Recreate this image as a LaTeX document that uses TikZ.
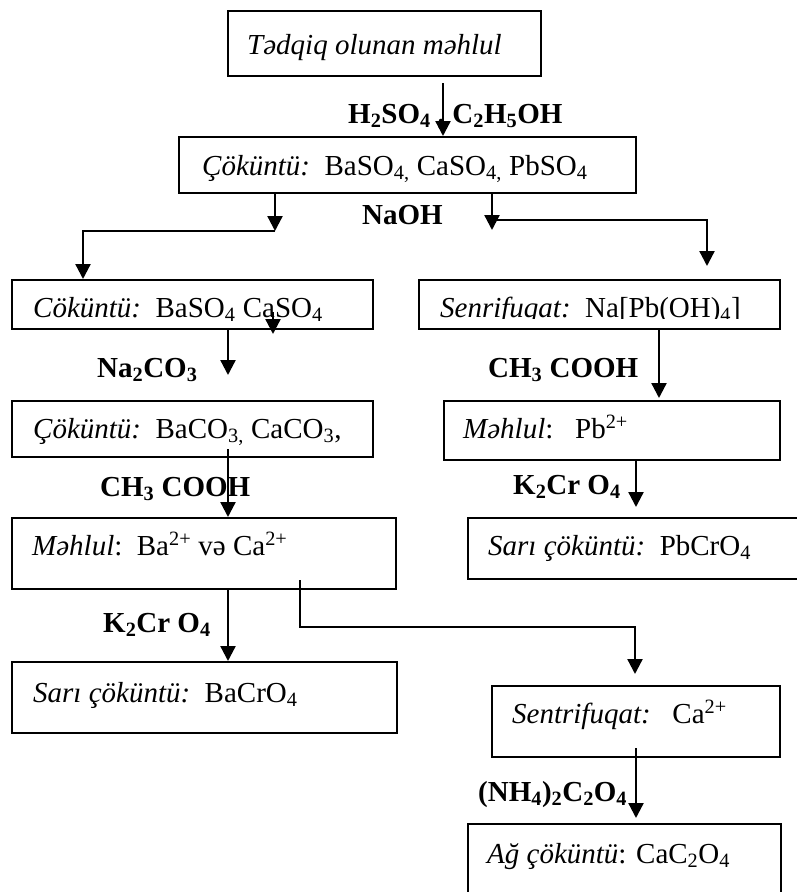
\documentclass[tikz,border=0pt]{standalone}
\usepackage{fontspec}
\setmainfont{Liberation Serif}
\usepackage{tikz}
\usetikzlibrary{arrows.meta}

\begin{document}
\begin{tikzpicture}[x=1pt,y=-1pt,
  box/.style={draw,line width=2pt,anchor=north west,inner sep=0pt},
  txt/.style={anchor=base west,inner sep=0pt,font=\fontsize{29}{34}\selectfont},
  lab/.style={anchor=base west,inner sep=0pt,font=\fontsize{29}{34}\selectfont\bfseries},
  flow/.style={line width=2.3pt,-{Triangle[length=15pt,width=15pt]}}]
\useasboundingbox (0,0) rectangle (797,892);
\clip (0,0) rectangle (797,892);
\fill[white] (0,0) rectangle (797,892);

\node[box,minimum width=313pt,minimum height=65pt] (b1) at (227,10) {};
\node[box,minimum width=457pt,minimum height=56pt] (b2) at (178,136) {};
\node[box,minimum width=361pt,minimum height=49pt] (b3) at (11,279) {};
\node[box,minimum width=361pt,minimum height=56pt] (b4) at (11,400) {};
\node[box,minimum width=384pt,minimum height=71pt] (b5) at (11,517) {};
\node[box,minimum width=385pt,minimum height=71pt] (b6) at (11,661) {};
\node[box,minimum width=361pt,minimum height=49pt] (b7) at (418,279) {};
\node[box,minimum width=336pt,minimum height=59pt] (b8) at (443,400) {};
\node[box,minimum width=400pt,minimum height=61pt] (b9) at (467,517) {};
\node[box,minimum width=288pt,minimum height=71pt] (b10) at (491,685) {};
\node[box,minimum width=313pt,minimum height=100pt] (b11) at (467,823) {};

\node[txt] (t1) at (247,54) {\textit{Tədqiq olunan məhlul}};
\node[txt] (t2) at (202,175) {\textit{Çöküntü:}\ \ BaSO\textsubscript{4,} CaSO\textsubscript{4,} PbSO\textsubscript{4}};
\node[txt] (t3) at (33,317) {\textit{Cöküntü:}\ \ BaSO\textsubscript{4} CaSO\textsubscript{4}};
\node[txt] (t4) at (33,438) {\textit{Çöküntü:}\ \ BaCO\textsubscript{3,} CaCO\textsubscript{3},};
\node[txt] (t5) at (32,555) {\textit{Məhlul}:\ \ Ba\textsuperscript{2+} və Ca\textsuperscript{2+}};
\node[txt] (t6) at (33,702) {\textit{Sarı çöküntü:}\ \ BaCrO\textsubscript{4}};
\begin{scope}
\clip (418,279) rectangle (779,318.5);
\node[txt] (t7) at (440,317) {\textit{Senrifuqat:}\ \ Na[Pb(OH)\textsubscript{4}]};
\end{scope}
\node[txt] (t8) at (463,438) {\textit{Məhlul}:\ \ \ Pb\textsuperscript{2+}};
\node[txt] (t9) at (488,555) {\textit{Sarı çöküntü:}\ \ PbCrO\textsubscript{4}};
\node[txt] (t10) at (512,723) {\textit{Sentrifuqat:}\ \ \ Ca\textsuperscript{2+}};
\node[txt] (t11) at (487,863) {\textit{Ağ çöküntü}: CaC\textsubscript{2}O\textsubscript{4}};

\node[lab] (l1) at (348,123) {H\textsubscript{2}SO\textsubscript{4} , C\textsubscript{2}H\textsubscript{5}OH};
\node[lab] (l2) at (362,224) {NaOH};
\node[lab] (l3) at (97,377) {Na\textsubscript{2}CO\textsubscript{3}};
\node[lab] (l4) at (100,496) {CH\textsubscript{3} COOH};
\node[lab] (l5) at (103,632) {K\textsubscript{2}Cr O\textsubscript{4}};
\node[lab] (l6) at (488,377) {CH\textsubscript{3} COOH};
\node[lab] (l7) at (513,494) {K\textsubscript{2}Cr O\textsubscript{4}};
\node[lab] (l8) at (478,801) {(NH\textsubscript{4})\textsubscript{2}C\textsubscript{2}O\textsubscript{4}};

\coordinate (p1) at (443,83);
\coordinate (p2) at (275,231);
\coordinate (p3) at (492,230);
\coordinate (p4) at (707,220);
\coordinate (p5) at (228,375);
\coordinate (p6) at (273,312);
\coordinate (p7) at (228,449);
\coordinate (p8) at (300,580);
\coordinate (p9) at (635,627);
\coordinate (p10) at (659,398);
\coordinate (p11) at (636,507);
\coordinate (p12) at (636,748);

\draw[flow] (p1) -- (p1 |- b2.north);
\draw[flow] (b2.south -| p2) -- (p2);
\draw[flow] (p2) -| ([xshift=72pt]b3.north west);
\draw[flow] (b2.south -| p3) -- (p3);
\draw[flow] (p3 |- p4) -- (p4) -- ++(0,46);
\draw[flow] (b3.south -| p5) -- (p5);
\draw[flow] (p6) -- ++(0,22);
\draw[flow] (p7) -- (p7 |- b5.north);
\draw[flow] (b5.south -| p7) -- (p7 |- b6.north);
\draw[flow] (p8) |- (p9) -- ++(0,47);
\draw[flow] (b7.south -| p10) -- (p10);
\draw[flow] (b8.south -| p11) -- (p11);
\draw[flow] (p12) -- ++(0,70);
\end{tikzpicture}
\end{document}
